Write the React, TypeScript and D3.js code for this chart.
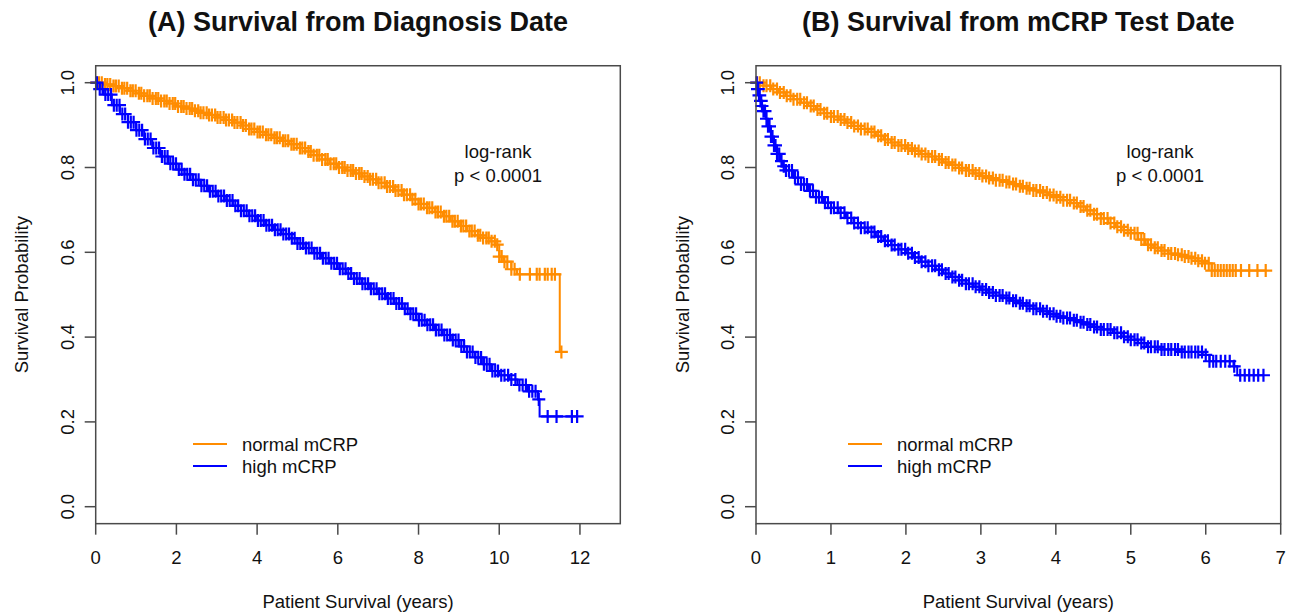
import React from 'react';
import * as d3 from 'd3';

// ---------- Data ----------
// Panel A: survival from diagnosis date (years)
const normalA_time = [0, 0.2, 0.4, 0.6, 0.8, 1.0, 1.2, 1.4, 1.6, 1.8, 2.0, 2.2, 2.4, 2.6, 2.8, 3.0, 3.2, 3.4, 3.6, 3.8, 4.0, 4.2, 4.4, 4.6, 4.8, 5.0, 5.2, 5.4, 5.6, 5.8, 6.0, 6.2, 6.4, 6.6, 6.8, 7.0, 7.2, 7.4, 7.6, 7.8, 8.0, 8.2, 8.4, 8.6, 8.8, 9.0, 9.2, 9.4, 9.6, 9.8, 9.9, 10.0, 10.1, 10.3, 10.44, 11.5];
const normalA_surv = [1.0, 0.996, 0.992, 0.987, 0.981, 0.975, 0.969, 0.963, 0.957, 0.951, 0.944, 0.939, 0.934, 0.929, 0.924, 0.918, 0.912, 0.906, 0.899, 0.891, 0.884, 0.877, 0.87, 0.863, 0.855, 0.846, 0.838, 0.829, 0.819, 0.809, 0.8, 0.793, 0.786, 0.779, 0.772, 0.764, 0.755, 0.746, 0.736, 0.725, 0.714, 0.705, 0.695, 0.685, 0.673, 0.662, 0.65, 0.64, 0.634, 0.626, 0.618, 0.59, 0.578, 0.56, 0.548, 0.365];
const normalA_censor = [0.02, 0.08, 0.15, 0.23, 0.29, 0.36, 0.44, 0.5, 0.57, 0.65, 0.71, 0.78, 0.86, 0.92, 0.99, 1.07, 1.13, 1.2, 1.28, 1.34, 1.41, 1.49, 1.55, 1.62, 1.7, 1.76, 1.83, 1.91, 1.97, 2.04, 2.12, 2.18, 2.25, 2.33, 2.39, 2.46, 2.54, 2.6, 2.67, 2.75, 2.81, 2.88, 2.96, 3.02, 3.09, 3.17, 3.23, 3.3, 3.38, 3.44, 3.51, 3.59, 3.65, 3.72, 3.8, 3.86, 3.93, 4.01, 4.07, 4.14, 4.22, 4.28, 4.35, 4.43, 4.49, 4.56, 4.64, 4.7, 4.77, 4.85, 4.91, 4.98, 5.06, 5.12, 5.19, 5.27, 5.33, 5.4, 5.48, 5.54, 5.61, 5.69, 5.75, 5.82, 5.9, 5.96, 6.03, 6.11, 6.17, 6.24, 6.32, 6.38, 6.45, 6.53, 6.59, 6.66, 6.74, 6.8, 6.87, 6.95, 7.01, 7.08, 7.16, 7.22, 7.29, 7.37, 7.43, 7.5, 7.58, 7.64, 7.71, 7.79, 7.85, 7.92, 8.0, 8.06, 8.13, 8.21, 8.27, 8.34, 8.42, 8.48, 8.55, 8.63, 8.69, 8.76, 8.84, 8.9, 8.97, 9.05, 9.11, 9.18, 9.26, 9.32, 9.39, 9.47, 9.53, 9.6, 9.68, 9.74, 9.81, 9.89, 9.95, 10.0, 10.06, 10.13, 10.2, 10.3, 10.38, 10.51, 10.76, 10.93, 11.0, 11.13, 11.2, 11.3, 11.38, 11.54];

const highA_time = [0, 0.1, 0.2, 0.4, 0.6, 0.8, 1.0, 1.2, 1.4, 1.6, 1.8, 2.0, 2.2, 2.4, 2.6, 2.8, 3.0, 3.2, 3.4, 3.6, 3.8, 4.0, 4.2, 4.4, 4.6, 4.8, 5.0, 5.2, 5.4, 5.6, 5.8, 6.0, 6.2, 6.4, 6.6, 6.8, 7.0, 7.2, 7.4, 7.6, 7.8, 8.0, 8.2, 8.4, 8.6, 8.8, 9.0, 9.2, 9.4, 9.6, 9.8, 10.0, 10.25, 10.45, 10.7, 10.96, 11.0];
const highA_surv = [1.0, 0.985, 0.972, 0.947, 0.926, 0.907, 0.888, 0.867, 0.846, 0.826, 0.809, 0.795, 0.784, 0.771, 0.757, 0.744, 0.733, 0.722, 0.71, 0.698, 0.686, 0.675, 0.664, 0.653, 0.643, 0.633, 0.621, 0.61, 0.598, 0.586, 0.574, 0.561, 0.55, 0.538, 0.526, 0.514, 0.502, 0.491, 0.479, 0.467, 0.455, 0.44, 0.429, 0.417, 0.405, 0.393, 0.378, 0.365, 0.352, 0.336, 0.32, 0.31, 0.3, 0.287, 0.272, 0.253, 0.213];
const highA_censor = [0.03, 0.1, 0.17, 0.24, 0.31, 0.38, 0.45, 0.52, 0.59, 0.66, 0.73, 0.8, 0.87, 0.94, 1.01, 1.08, 1.15, 1.22, 1.29, 1.36, 1.43, 1.5, 1.57, 1.64, 1.71, 1.78, 1.85, 1.92, 1.99, 2.06, 2.13, 2.2, 2.27, 2.34, 2.41, 2.48, 2.55, 2.62, 2.69, 2.76, 2.83, 2.9, 2.97, 3.04, 3.11, 3.18, 3.25, 3.32, 3.39, 3.46, 3.53, 3.6, 3.67, 3.74, 3.81, 3.88, 3.95, 4.02, 4.09, 4.16, 4.23, 4.3, 4.37, 4.44, 4.51, 4.58, 4.65, 4.72, 4.79, 4.86, 4.93, 5.0, 5.07, 5.14, 5.21, 5.28, 5.35, 5.42, 5.49, 5.56, 5.63, 5.7, 5.77, 5.84, 5.91, 5.98, 6.05, 6.12, 6.19, 6.26, 6.33, 6.4, 6.47, 6.54, 6.61, 6.68, 6.75, 6.82, 6.89, 6.96, 7.03, 7.1, 7.17, 7.24, 7.31, 7.38, 7.45, 7.52, 7.59, 7.66, 7.73, 7.8, 7.87, 7.94, 8.01, 8.08, 8.15, 8.22, 8.29, 8.36, 8.43, 8.5, 8.57, 8.64, 8.71, 8.78, 8.85, 8.92, 8.99, 9.06, 9.13, 9.2, 9.27, 9.34, 9.41, 9.48, 9.55, 9.62, 9.69, 9.76, 9.83, 9.9, 9.97, 10.05, 10.13, 10.22, 10.3, 10.4, 10.5, 10.58, 10.66, 10.74, 10.82, 10.9, 10.98, 11.2, 11.42, 11.8, 11.93];

// Panel B: survival from mCRP test date (years)
const normalB_time = [0, 0.1, 0.2, 0.3, 0.4, 0.5, 0.6, 0.7, 0.8, 0.9, 1.0, 1.1, 1.2, 1.3, 1.4, 1.5, 1.6, 1.7, 1.8, 1.9, 2.0, 2.1, 2.2, 2.3, 2.4, 2.5, 2.6, 2.7, 2.8, 2.9, 3.0, 3.1, 3.2, 3.3, 3.4, 3.5, 3.6, 3.7, 3.8, 3.9, 4.0, 4.1, 4.2, 4.3, 4.4, 4.5, 4.6, 4.7, 4.8, 4.9, 5.0, 5.1, 5.2, 5.3, 5.4, 5.5, 5.6, 5.7, 5.8, 5.9, 5.96, 6.08];
const normalB_surv = [1.0, 0.993, 0.985, 0.977, 0.969, 0.961, 0.953, 0.945, 0.937, 0.928, 0.92, 0.913, 0.906, 0.898, 0.891, 0.884, 0.875, 0.866, 0.859, 0.852, 0.845, 0.839, 0.832, 0.826, 0.819, 0.812, 0.806, 0.799, 0.793, 0.786, 0.78, 0.775, 0.77, 0.766, 0.761, 0.756, 0.751, 0.746, 0.741, 0.735, 0.73, 0.723, 0.716, 0.708, 0.699, 0.69, 0.68, 0.669, 0.66, 0.652, 0.645, 0.63, 0.618, 0.611, 0.604, 0.597, 0.594, 0.59, 0.586, 0.58, 0.574, 0.557];
const normalB_censor = [0.01, 0.05, 0.1, 0.14, 0.19, 0.23, 0.28, 0.32, 0.37, 0.41, 0.46, 0.5, 0.55, 0.59, 0.64, 0.68, 0.73, 0.77, 0.82, 0.86, 0.91, 0.95, 1.0, 1.04, 1.09, 1.13, 1.18, 1.22, 1.27, 1.31, 1.36, 1.4, 1.45, 1.49, 1.54, 1.58, 1.63, 1.67, 1.72, 1.76, 1.81, 1.85, 1.9, 1.94, 1.99, 2.03, 2.08, 2.12, 2.17, 2.21, 2.26, 2.3, 2.35, 2.39, 2.44, 2.48, 2.53, 2.57, 2.62, 2.66, 2.71, 2.75, 2.8, 2.84, 2.89, 2.93, 2.98, 3.02, 3.07, 3.11, 3.16, 3.2, 3.25, 3.29, 3.34, 3.38, 3.43, 3.47, 3.52, 3.56, 3.61, 3.65, 3.7, 3.74, 3.79, 3.83, 3.88, 3.92, 3.97, 4.01, 4.06, 4.1, 4.15, 4.19, 4.24, 4.28, 4.33, 4.37, 4.42, 4.46, 4.51, 4.55, 4.6, 4.64, 4.69, 4.73, 4.78, 4.82, 4.87, 4.91, 4.96, 5.0, 5.05, 5.09, 5.14, 5.18, 5.23, 5.27, 5.32, 5.36, 5.41, 5.45, 5.5, 5.54, 5.59, 5.63, 5.68, 5.72, 5.77, 5.81, 5.86, 5.9, 5.95, 5.99, 6.04, 6.08, 6.12, 6.16, 6.2, 6.24, 6.28, 6.32, 6.36, 6.4, 6.47, 6.58, 6.69, 6.8];

const highB_time = [0, 0.02, 0.04, 0.06, 0.08, 0.1, 0.13, 0.16, 0.2, 0.24, 0.28, 0.32, 0.36, 0.4, 0.5, 0.6, 0.7, 0.8, 0.9, 1.0, 1.1, 1.2, 1.3, 1.4, 1.5, 1.6, 1.7, 1.8, 1.9, 2.0, 2.1, 2.2, 2.3, 2.4, 2.5, 2.6, 2.7, 2.8, 2.9, 3.0, 3.1, 3.2, 3.3, 3.4, 3.5, 3.6, 3.7, 3.8, 3.9, 4.0, 4.1, 4.2, 4.32, 4.4, 4.5, 4.6, 4.76, 4.9, 5.0, 5.1, 5.21, 5.4, 5.65, 5.96, 6.05, 6.37, 6.42];
const highB_surv = [1.0, 0.985, 0.97, 0.957, 0.945, 0.933, 0.915, 0.897, 0.873, 0.852, 0.832, 0.815, 0.803, 0.793, 0.776, 0.76, 0.745, 0.73, 0.717, 0.705, 0.693, 0.681, 0.669, 0.658, 0.648, 0.637, 0.627, 0.617, 0.607, 0.598, 0.588, 0.578, 0.568, 0.559, 0.55, 0.542, 0.534, 0.526, 0.519, 0.512, 0.505, 0.498, 0.492, 0.486, 0.48, 0.474, 0.467, 0.461, 0.455, 0.449, 0.445, 0.44, 0.435, 0.43, 0.424, 0.418, 0.41, 0.401, 0.394, 0.386, 0.377, 0.371, 0.365, 0.358, 0.343, 0.331, 0.31];
const highB_censor = [0.01, 0.02, 0.03, 0.04, 0.05, 0.06, 0.07, 0.08, 0.1, 0.12, 0.14, 0.16, 0.18, 0.2, 0.22, 0.24, 0.26, 0.28, 0.31, 0.34, 0.37, 0.4, 0.44, 0.48, 0.52, 0.56, 0.6, 0.64, 0.68, 0.72, 0.76, 0.8, 0.84, 0.88, 0.92, 0.96, 1.0, 1.04, 1.09, 1.13, 1.18, 1.22, 1.27, 1.31, 1.36, 1.4, 1.45, 1.49, 1.54, 1.58, 1.63, 1.67, 1.72, 1.76, 1.81, 1.85, 1.9, 1.94, 1.99, 2.03, 2.08, 2.12, 2.17, 2.21, 2.26, 2.3, 2.35, 2.39, 2.44, 2.48, 2.53, 2.57, 2.62, 2.66, 2.71, 2.75, 2.8, 2.84, 2.89, 2.93, 2.98, 3.02, 3.07, 3.11, 3.16, 3.2, 3.25, 3.29, 3.34, 3.38, 3.43, 3.47, 3.52, 3.56, 3.61, 3.65, 3.7, 3.74, 3.79, 3.83, 3.88, 3.92, 3.97, 4.01, 4.06, 4.1, 4.15, 4.19, 4.24, 4.28, 4.33, 4.37, 4.42, 4.46, 4.51, 4.55, 4.6, 4.64, 4.69, 4.73, 4.78, 4.82, 4.87, 4.91, 4.96, 5.0, 5.05, 5.09, 5.14, 5.18, 5.23, 5.27, 5.32, 5.36, 5.41, 5.45, 5.5, 5.54, 5.59, 5.63, 5.68, 5.72, 5.77, 5.81, 5.86, 5.9, 5.95, 6.0, 6.05, 6.1, 6.14, 6.2, 6.26, 6.32, 6.38, 6.46, 6.52, 6.58, 6.64, 6.7, 6.77];

const xTicksA = [0, 2, 4, 6, 8, 10, 12];
const xTicksB = [0, 1, 2, 3, 4, 5, 6, 7];
const yTicks = [0, 0.2, 0.4, 0.6, 0.8, 1.0];
const seriesLabels = ['normal mCRP', 'high mCRP'];
const titles = ['(A) Survival from Diagnosis Date', '(B) Survival from mCRP Test Date'];

// ---------- Styles ----------
const ORANGE = '#FF8C00';
const BLUE = '#0000FF';
const AXIS = '#4a4a4a';
const FONT = '"Liberation Sans", Arial, Helvetica, sans-serif';

type Curve = { time: number[]; surv: number[]; censor: number[]; color: string };

function survAt(c: Curve, t: number) {
  let s = c.surv[0];
  for (let i = 0; i < c.time.length; i++) {
    if (c.time[i] <= t) s = c.surv[i];
    else break;
  }
  return s;
}

type PanelProps = {
  title: string;
  xRange: [number, number];
  xMax: number;
  xTicks: number[];
  curves: Curve[];
  legendX: number;
  logrankX: number;
};

const Y_RANGE: [number, number] = [506.7, 82.7];
const MARK = 6.5;

function Panel({ title, xRange, xMax, xTicks, curves, legendX, logrankX }: PanelProps) {
  const x = d3.scaleLinear().domain([0, xMax]).range(xRange);
  const y = d3.scaleLinear().domain([0, 1]).range(Y_RANGE);
  const boxTop = y(1.04);
  const boxBottom = y(-0.04);
  const left = x(0);
  const right = x(xMax);
  const cx = (left + right) / 2;
  const line = d3
    .line<[number, number]>()
    .x((d) => x(d[0]))
    .y((d) => y(d[1]))
    .curve(d3.curveStepAfter);

  return (
    <g>
      <text x={cx} y={31} textAnchor="middle" fontFamily={FONT} fontWeight="bold" fontSize={27} fill="#111">
        {title}
      </text>
      {curves.map((c, ci) => {
        const end = Math.max(c.time[c.time.length - 1], c.censor[c.censor.length - 1]);
        const pts: [number, number][] = c.time.map((t, i) => [t, c.surv[i]] as [number, number]);
        pts.push([end, c.surv[c.surv.length - 1]]);
        const marks = c.censor
          .map((t) => {
            const px = x(t);
            const py = y(survAt(c, t));
            return `M${px - MARK},${py}h${2 * MARK}M${px},${py - MARK}v${2 * MARK}`;
          })
          .join('');
        return (
          <g key={ci}>
            <path d={line(pts) || ''} fill="none" stroke={c.color} strokeWidth={2} />
            <path d={marks} fill="none" stroke={c.color} strokeWidth={2.2} />
          </g>
        );
      })}
      <rect x={left} y={boxTop} width={right - left} height={boxBottom - boxTop} fill="none" stroke={AXIS} strokeWidth={1.5} />
      {xTicks.map((t) => (
        <g key={'x' + t}>
          <line x1={x(t)} x2={x(t)} y1={boxBottom} y2={boxBottom + 11} stroke={AXIS} strokeWidth={1.5} />
          <text x={x(t)} y={564} textAnchor="middle" fontFamily={FONT} fontSize={18.5} fill="#111">
            {t}
          </text>
        </g>
      ))}
      {yTicks.map((t) => (
        <g key={'y' + t}>
          <line x1={left - 11} x2={left} y1={y(t)} y2={y(t)} stroke={AXIS} strokeWidth={1.5} />
          <text
            transform={`translate(${left - 22},${y(t)}) rotate(-90)`}
            textAnchor="middle"
            fontFamily={FONT}
            fontSize={18.5}
            fill="#111"
          >
            {t.toFixed(1)}
          </text>
        </g>
      ))}
      <text x={cx} y={608} textAnchor="middle" fontFamily={FONT} fontSize={18.5} fill="#111">
        Patient Survival (years)
      </text>
      <text
        transform={`translate(${left - 67.5},${(boxTop + boxBottom) / 2}) rotate(-90)`}
        textAnchor="middle"
        fontFamily={FONT}
        fontSize={18.5}
        fill="#111"
      >
        Survival Probability
      </text>
      <text x={logrankX} y={158} textAnchor="middle" fontFamily={FONT} fontSize={18.5} fill="#111">
        log-rank
      </text>
      <text x={logrankX} y={182} textAnchor="middle" fontFamily={FONT} fontSize={18.5} fill="#111">
        p &lt; 0.0001
      </text>
      {curves.map((c, i) => (
        <g key={'lg' + i}>
          <line x1={legendX} x2={legendX + 34} y1={444 + i * 22} y2={444 + i * 22} stroke={c.color} strokeWidth={2.2} />
          <text x={legendX + 49} y={450.5 + i * 22} fontFamily={FONT} fontSize={18.5} fill="#111">
            {seriesLabels[i]}
          </text>
        </g>
      ))}
    </g>
  );
}

export default function App() {
  const curvesA: Curve[] = [
    { time: normalA_time, surv: normalA_surv, censor: normalA_censor, color: ORANGE },
    { time: highA_time, surv: highA_surv, censor: highA_censor, color: BLUE },
  ];
  const curvesB: Curve[] = [
    { time: normalB_time, surv: normalB_surv, censor: normalB_censor, color: ORANGE },
    { time: highB_time, surv: highB_surv, censor: highB_censor, color: BLUE },
  ];
  return (
    <svg
      width={1298}
      height={613}
      viewBox="0 0 1298 613"
      style={{ position: 'absolute', left: 0, top: 0, background: '#fff' }}
    >
      <rect width={1298} height={613} fill="#fff" />
      <Panel title={titles[0]} xRange={[95.7, 620.3]} xMax={13} xTicks={xTicksA} curves={curvesA} legendX={193} logrankX={498} />
      <Panel title={titles[1]} xRange={[756, 1280.7]} xMax={7} xTicks={xTicksB} curves={curvesB} legendX={848} logrankX={1160} />
    </svg>
  );
}
